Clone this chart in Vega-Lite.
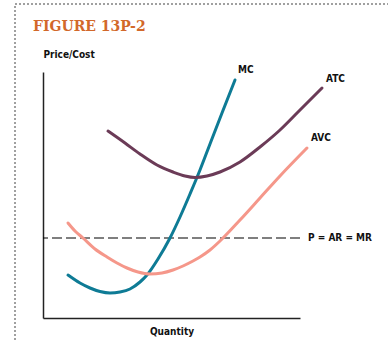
{
  "$schema": "https://vega.github.io/schema/vega-lite/v6.json",
  "autosize": "none",
  "width": 257,
  "height": 246,
  "padding": {"left": 43, "top": 72, "right": 88, "bottom": 35},
  "background": "white",
  "config": {"view": {"stroke": null}},
  "datasets": {
    "curves": [
      {"series": "MC", "q": 25, "c": 43}, {"series": "MC", "q": 37, "c": 35}, {"series": "MC", "q": 47, "c": 30},
      {"series": "MC", "q": 57, "c": 26.5}, {"series": "MC", "q": 67, "c": 25}, {"series": "MC", "q": 77, "c": 26},
      {"series": "MC", "q": 87, "c": 29}, {"series": "MC", "q": 97, "c": 36}, {"series": "MC", "q": 104, "c": 43},
      {"series": "MC", "q": 115, "c": 59}, {"series": "MC", "q": 127, "c": 80}, {"series": "MC", "q": 137, "c": 101},
      {"series": "MC", "q": 147, "c": 124}, {"series": "MC", "q": 157, "c": 148}, {"series": "MC", "q": 167, "c": 174},
      {"series": "MC", "q": 179, "c": 205}, {"series": "MC", "q": 192, "c": 238},
      {"series": "ATC", "q": 65, "c": 187}, {"series": "ATC", "q": 82, "c": 175}, {"series": "ATC", "q": 97, "c": 164},
      {"series": "ATC", "q": 114, "c": 153}, {"series": "ATC", "q": 130, "c": 146}, {"series": "ATC", "q": 142, "c": 142},
      {"series": "ATC", "q": 152, "c": 140.5}, {"series": "ATC", "q": 164, "c": 142}, {"series": "ATC", "q": 177, "c": 146},
      {"series": "ATC", "q": 197, "c": 156}, {"series": "ATC", "q": 217, "c": 171}, {"series": "ATC", "q": 237, "c": 188},
      {"series": "ATC", "q": 257, "c": 208}, {"series": "ATC", "q": 279, "c": 230},
      {"series": "AVC", "q": 25, "c": 95}, {"series": "AVC", "q": 32, "c": 87}, {"series": "AVC", "q": 40, "c": 80},
      {"series": "AVC", "q": 52, "c": 69}, {"series": "AVC", "q": 64, "c": 61}, {"series": "AVC", "q": 74, "c": 55},
      {"series": "AVC", "q": 84, "c": 50}, {"series": "AVC", "q": 95, "c": 46}, {"series": "AVC", "q": 107, "c": 44},
      {"series": "AVC", "q": 119, "c": 45}, {"series": "AVC", "q": 130, "c": 48}, {"series": "AVC", "q": 140, "c": 52},
      {"series": "AVC", "q": 150, "c": 57}, {"series": "AVC", "q": 157, "c": 61}, {"series": "AVC", "q": 167, "c": 68},
      {"series": "AVC", "q": 177, "c": 77}, {"series": "AVC", "q": 197, "c": 98}, {"series": "AVC", "q": 217, "c": 120},
      {"series": "AVC", "q": 237, "c": 142}, {"series": "AVC", "q": 264, "c": 170}
    ],
    "labels": [
      {"label": "MC", "q": 195, "c": 248},
      {"label": "ATC", "q": 283, "c": 239},
      {"label": "AVC", "q": 268, "c": 180},
      {"label": "P = AR = MR", "q": 265, "c": 80}
    ]
  },
  "layer": [
    {
      "data": {"values": [{"x": -28, "x2": -28, "y": -22, "y2": 314}, {"x": -28, "x2": 345, "y": 314, "y2": 314}]},
      "mark": {"type": "rule", "color": "#a0a0a0", "strokeDash": [2, 2], "strokeWidth": 2},
      "encoding": {
        "x": {"field": "x", "type": "quantitative", "scale": {"domain": [0, 257], "nice": false, "zero": false},
          "axis": {"title": "Quantity", "domainColor": "#222", "domainWidth": 1.5, "ticks": false, "labels": false, "grid": false,
            "titleFont": "DejaVu Sans Condensed, Liberation Sans", "titleFontSize": 10, "titleFontWeight": "bold", "titleColor": "#111", "titlePadding": 8}},
        "x2": {"field": "x2"},
        "y": {"field": "y", "type": "quantitative", "scale": {"domain": [0, 246], "nice": false, "zero": false},
          "axis": {"title": "Price/Cost", "domainColor": "#222", "domainWidth": 1.5, "ticks": false, "labels": false, "grid": false,
            "titleFont": "DejaVu Sans Condensed, Liberation Sans", "titleFontSize": 10, "titleFontWeight": "bold", "titleColor": "#111",
            "titleAngle": 0, "titleAlign": "left", "titleBaseline": "middle", "titleX": 0, "titleY": -18}},
        "y2": {"field": "y2"}
      }
    },
    {
      "data": {"values": [{"title": "FIGURE 13P-2", "x": -10, "y": 291}]},
      "mark": {"type": "text", "align": "left", "baseline": "middle", "font": "DejaVu Serif", "fontWeight": "bold", "fontSize": 14, "color": "#d2682a"},
      "encoding": {"x": {"field": "x", "type": "quantitative"}, "y": {"field": "y", "type": "quantitative"}, "text": {"field": "title"}}
    },
    {
      "data": {"values": [{"y": 80}]},
      "mark": {"type": "rule", "color": "#000", "strokeWidth": 1.2, "strokeDash": [10, 4]},
      "encoding": {"y": {"field": "y", "type": "quantitative"}}
    },
    {
      "data": {"name": "curves"},
      "mark": {"type": "line", "strokeWidth": 3, "interpolate": "monotone", "strokeCap": "round"},
      "encoding": {
        "x": {"field": "q", "type": "quantitative"},
        "y": {"field": "c", "type": "quantitative"},
        "detail": {"field": "series"},
        "color": {"field": "series", "type": "nominal", "legend": null,
          "scale": {"domain": ["MC", "ATC", "AVC"], "range": ["#0e7b95", "#6b3b57", "#f5978a"]}}
      }
    },
    {
      "data": {"name": "labels"},
      "mark": {"type": "text", "align": "left", "baseline": "middle", "font": "DejaVu Sans Condensed, Liberation Sans", "fontWeight": "bold", "fontSize": 10, "color": "#111"},
      "encoding": {"x": {"field": "q", "type": "quantitative"}, "y": {"field": "c", "type": "quantitative"}, "text": {"field": "label"}}
    }
  ]
}
